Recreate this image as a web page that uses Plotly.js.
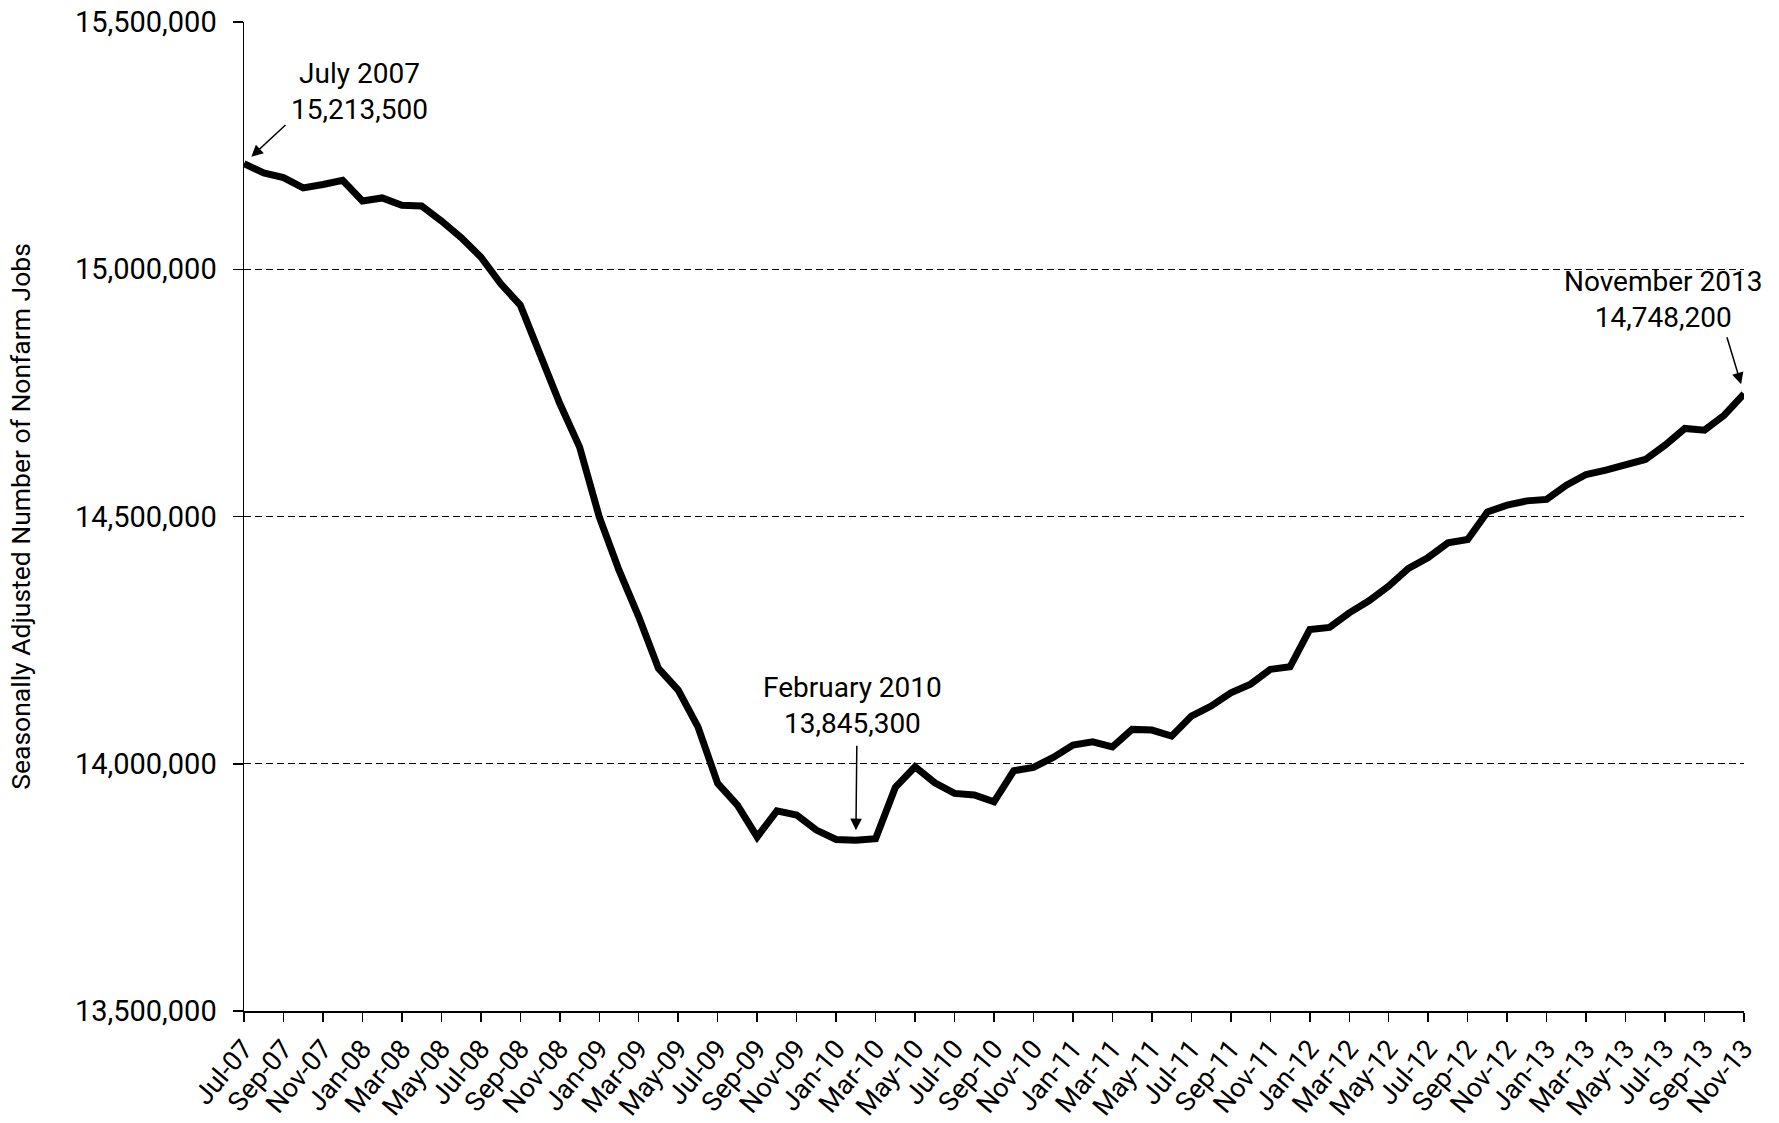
<!DOCTYPE html>
<html>
<head>
<meta charset="utf-8">
<script src="https://cdn.plot.ly/plotly-3.0.1.min.js"></script>
<style>html,body{margin:0;padding:0;background:#fff;}#chart{width:1779px;height:1123px;}</style>
</head>
<body>
<div id="chart"></div>
<script>
const months = [
  "Jul-07","Aug-07","Sep-07","Oct-07","Nov-07","Dec-07",
  "Jan-08","Feb-08","Mar-08","Apr-08","May-08","Jun-08","Jul-08","Aug-08","Sep-08","Oct-08","Nov-08","Dec-08",
  "Jan-09","Feb-09","Mar-09","Apr-09","May-09","Jun-09","Jul-09","Aug-09","Sep-09","Oct-09","Nov-09","Dec-09",
  "Jan-10","Feb-10","Mar-10","Apr-10","May-10","Jun-10","Jul-10","Aug-10","Sep-10","Oct-10","Nov-10","Dec-10",
  "Jan-11","Feb-11","Mar-11","Apr-11","May-11","Jun-11","Jul-11","Aug-11","Sep-11","Oct-11","Nov-11","Dec-11",
  "Jan-12","Feb-12","Mar-12","Apr-12","May-12","Jun-12","Jul-12","Aug-12","Sep-12","Oct-12","Nov-12","Dec-12",
  "Jan-13","Feb-13","Mar-13","Apr-13","May-13","Jun-13","Jul-13","Aug-13","Sep-13","Oct-13","Nov-13"
];
const jobs = [
  15213500,15194700,15185400,15164400,15171300,15180000,
  15138100,15144200,15129400,15128000,15097700,15064100,15024900,14971100,14927300,14824100,14728500,14640800,
  14499300,14391500,14297100,14192800,14148900,14074700,13960300,13916400,13852000,13904900,13896200,13865900,
  13846800,13845300,13848500,13952200,13993900,13961500,13940000,13936700,13923100,13985800,13992700,14012900,
  14037700,14044400,14034300,14069500,14068100,14055900,14096400,14116600,14143500,14161100,14190800,14196000,
  14271600,14275700,14305200,14329500,14359200,14394900,14417200,14446700,14453500,14509400,14522900,14531600,
  14534500,14563400,14585000,14593700,14603800,14615300,14644200,14678000,14674600,14704900,14748200
];
const tickMonths = months.filter((m, i) => i % 2 === 0);
const yTicks = [13500000, 14000000, 14500000, 15000000, 15500000];
const yTitle = "Seasonally Adjusted Number of Nonfarm Jobs";
const notes = [
  {idx: 0, label: "July 2007<br>15,213,500"},
  {idx: 31, label: "February 2010<br>13,845,300"},
  {idx: 76, label: "November 2013<br>14,748,200"}
];

const FONT = 'Roboto, "Liberation Sans", Arial, sans-serif';

const trace = {
  x: months,
  y: jobs,
  type: 'scatter',
  mode: 'lines',
  line: {color: '#000', width: 7},
  hoverinfo: 'skip'
};

const textPos = [
  {x: 0.0773, y: 0.9297},
  {x: 0.4057, y: 0.3084},
  {x: 0.946, y: 0.7199}
];
const arrowOff = [
  {ax: 43, ay: -40},
  {ax: 1, ay: -96},
  {ax: -17.5, ay: -58}
];

const annotations = [];
notes.forEach((n, k) => {
  annotations.push({
    xref: 'paper', yref: 'paper', x: textPos[k].x, y: textPos[k].y,
    xanchor: 'center', yanchor: 'middle', showarrow: false,
    text: n.label, align: 'center',
    font: {family: FONT, size: 28, color: '#000'}
  });
  annotations.push({
    xref: 'x', yref: 'y', x: months[n.idx], y: jobs[n.idx],
    ax: arrowOff[k].ax, ay: arrowOff[k].ay,
    text: '', showarrow: true,
    arrowhead: 2, arrowsize: 1.55, arrowwidth: 1.5, arrowcolor: '#000',
    standoff: 10
  });
});

const layout = {
  width: 1779,
  height: 1123,
  margin: {l: 244, r: 35, t: 22, b: 112},
  paper_bgcolor: '#fff',
  plot_bgcolor: '#fff',
  showlegend: false,
  font: {family: FONT, color: '#000'},
  xaxis: {
    type: 'category',
    range: [0, months.length - 1],
    tickmode: 'array',
    tickvals: tickMonths,
    ticktext: tickMonths,
    tickangle: -50,
    tickfont: {family: FONT, size: 27, color: '#000'},
    ticks: 'outside',
    ticklen: 9,
    tickwidth: 1.5,
    tickcolor: '#000',
    showline: true,
    linecolor: '#000',
    linewidth: 2,
    showgrid: false,
    zeroline: false,
    automargin: false
  },
  yaxis: {
    range: [13500000, 15500000],
    tickmode: 'array',
    tickvals: yTicks,
    tickformat: ',d',
    tickfont: {family: FONT, size: 29, color: '#000'},
    ticks: 'outside',
    ticklen: 10,
    tickwidth: 1.5,
    tickcolor: '#000',
    showline: true,
    linecolor: '#000',
    linewidth: 1.5,
    showgrid: true,
    gridcolor: '#000',
    gridwidth: 1.3,
    griddash: '7px,4px',
    zeroline: false,
    automargin: false,
    ticklabelstandoff: 10,
    title: {text: yTitle, font: {family: FONT, size: 26.5, color: '#000'}, standoff: 36}
  },
  annotations: annotations
};

Plotly.newPlot('chart', [trace], layout, {displayModeBar: false, staticPlot: true});
</script>
</body>
</html>
